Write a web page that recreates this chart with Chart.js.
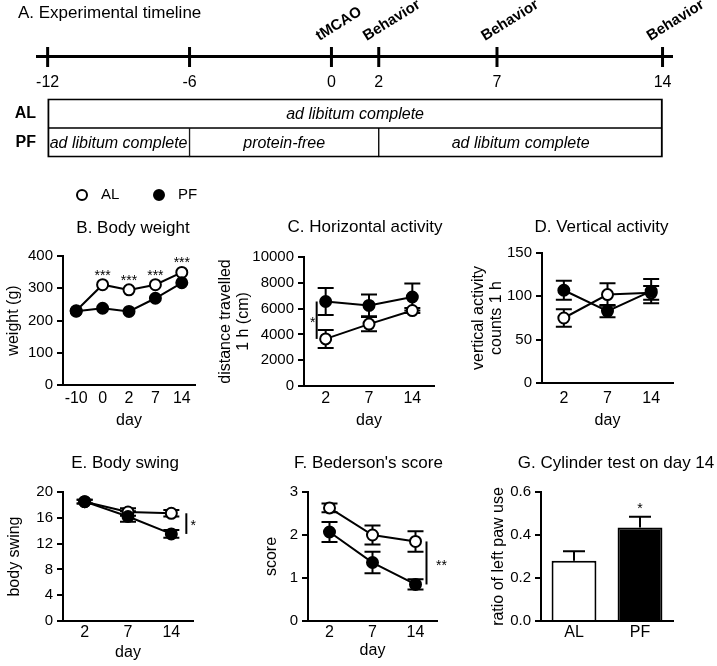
<!DOCTYPE html>
<html>
<head>
<meta charset="utf-8">
<script src="https://cdn.jsdelivr.net/npm/chart.js@4.4.1/dist/chart.umd.min.js"></script>
<style>
  body { margin: 0; background: #fff; }
  #fig { position: relative; width: 717px; height: 666px; overflow: hidden; background: #fff; }
  #fig canvas { position: absolute; }
</style>
</head>
<body>
<div id="fig">
  <canvas id="timeline" width="717" height="100" style="left:0px;top:0px"></canvas>
  <canvas id="diet" width="717" height="80" style="left:0px;top:88px"></canvas>
  <canvas id="weight" width="232" height="255" style="left:0px;top:175px"></canvas>
  <canvas id="horiz" width="255" height="255" style="left:215px;top:175px"></canvas>
  <canvas id="vert" width="252" height="255" style="left:465px;top:175px"></canvas>
  <canvas id="swing" width="232" height="236" style="left:0px;top:430px"></canvas>
  <canvas id="bederson" width="255" height="236" style="left:215px;top:430px"></canvas>
  <canvas id="cylinder" width="252" height="236" style="left:465px;top:430px"></canvas>
</div>
<script>
// A. timeline
const timelineDays = [-12, -6, 0, 2, 7, 14];
const eventDays = [0, 2, 7, 14];
const eventLabels = ['tMCAO', 'Behavior', 'Behavior', 'Behavior'];
const dietGroups = ['AL', 'PF'];
const alDiet = [[-12, 14]];
const alDietText = ['ad libitum complete'];
const pfDiet = [[-12, -6], [-6, 2], [2, 14]];
const pfDietText = ['ad libitum complete', 'protein-free', 'ad libitum complete'];

// B. body weight
const weightDays = ['-10', '0', '2', '7', '14'];
const weightAL = [230, 311, 295, 311, 349];
const weightPF = [229, 238, 228, 269, 317];
const weightStars = [null, '***', '***', '***', '***'];

// C-F behaviour days
const behaviorDays = ['2', '7', '14'];
const horizAL = [3650, 4800, 5850];
const horizALErr = [700, 550, 200];
const horizPF = [6550, 6250, 6900];
const horizPFErr = [1050, 850, 1050];

const vertAL = [75, 102, 104];
const vertALErr = [10, 13, 8];
const vertPF = [107, 83, 106];
const vertPFErr = [11, 7, 14];

const swingAL = [18.5, 16.9, 16.7];
const swingALErr = [0.3, 0.6, 0.5];
const swingPF = [18.5, 16.2, 13.5];
const swingPFErr = [0.3, 0.8, 0.6];

const bedersonAL = [2.63, 2.0, 1.85];
const bedersonALErr = [0.1, 0.22, 0.24];
const bedersonPF = [2.07, 1.36, 0.85];
const bedersonPFErr = [0.23, 0.25, 0.12];

// G. cylinder test
const cylinderGroups = ['AL', 'PF'];
const cylinderRatio = [0.28, 0.435];
const cylinderErr = [0.045, 0.05];

const FONT = '"Liberation Sans", Arial, Helvetica, sans-serif';
Chart.defaults.font.family = FONT;
Chart.defaults.color = '#000';

const errorBars = {
    id: 'errorBars',
    beforeDatasetsDraw(chart) {
        const { ctx, scales: { y } } = chart;
        ctx.save();
        ctx.strokeStyle = '#000';
        ctx.lineWidth = 2;
        chart.data.datasets.forEach((ds, i) => {
            if (!ds.errors) return;
            const cap = ds.capWidth || 8;
            chart.getDatasetMeta(i).data.forEach((el, j) => {
                const v = ds.data[j], e = ds.errors[j];
                const top = y.getPixelForValue(v + e);
                const bottom = y.getPixelForValue(ds.upOnly ? v : v - e);
                ctx.beginPath();
                ctx.moveTo(el.x, top);
                ctx.lineTo(el.x, bottom);
                ctx.moveTo(el.x - cap, top);
                ctx.lineTo(el.x + cap, top);
                if (!ds.upOnly) {
                    ctx.moveTo(el.x - cap, bottom);
                    ctx.lineTo(el.x + cap, bottom);
                }
                ctx.stroke();
            });
        });
        ctx.restore();
    }
};

const sigMarks = {
    id: 'sigMarks',
    afterDatasetsDraw(chart, args, opts) {
        const { ctx, scales: { y } } = chart;
        ctx.save();
        ctx.fillStyle = '#000';
        ctx.strokeStyle = '#000';
        ctx.lineWidth = 2;
        ctx.font = '14px ' + FONT;
        ctx.textAlign = 'center';
        ctx.textBaseline = 'middle';
        if (opts.stars) {
            const s = opts.stars;
            const ds = chart.data.datasets[s.dataset];
            const meta = chart.getDatasetMeta(s.dataset);
            s.text.forEach((t, j) => {
                if (!t) return;
                const top = ds.data[j] + (ds.errors ? ds.errors[j] : 0);
                ctx.fillText(t, meta.data[j].x, y.getPixelForValue(top) - s.gap);
            });
        }
        if (opts.bracket) {
            const b = opts.bracket;
            const a = chart.getDatasetMeta(0).data[b.index];
            const c = chart.getDatasetMeta(1).data[b.index];
            const x = a.x + b.dx;
            ctx.beginPath();
            ctx.moveTo(x, a.y);
            ctx.lineTo(x, c.y);
            ctx.stroke();
            ctx.fillText(b.text, x + b.textDx, (a.y + c.y) / 2 + 3);
        }
        ctx.restore();
    }
};

const panelTitle = {
    id: 'panelTitle',
    afterDraw(chart, args, opts) {
        const { ctx, chartArea } = chart;
        ctx.save();
        ctx.font = '17px ' + FONT;
        ctx.fillStyle = '#000';
        ctx.textAlign = 'center';
        ctx.textBaseline = 'middle';
        ctx.fillText(opts.text, (chartArea.left + chartArea.right) / 2 + opts.dx, chartArea.top - opts.dy);
        ctx.restore();
    }
};

const groupLegend = {
    id: 'groupLegend',
    afterDraw(chart, args, opts) {
        const ctx = chart.ctx;
        ctx.save();
        ctx.font = '15px ' + FONT;
        ctx.textAlign = 'left';
        ctx.textBaseline = 'middle';
        chart.data.datasets.forEach((ds, i) => {
            const x = opts.x + i * opts.step;
            ctx.beginPath();
            ctx.arc(x, opts.y, 5, 0, Math.PI * 2);
            ctx.fillStyle = ds.pointBackgroundColor;
            ctx.fill();
            ctx.lineWidth = 2;
            ctx.strokeStyle = '#000';
            ctx.stroke();
            ctx.fillStyle = '#000';
            ctx.fillText(ds.label, x + 19, opts.y);
        });
        ctx.restore();
    }
};

const eventText = {
    id: 'eventText',
    afterDraw(chart) {
        const { ctx, chartArea, scales: { x } } = chart;
        eventDays.forEach((d, i) => {
            ctx.save();
            ctx.translate(x.getPixelForValue(d) - 12, chartArea.bottom - 16);
            ctx.rotate(-32 * Math.PI / 180);
            ctx.font = 'bold 15px ' + FONT;
            ctx.fillStyle = '#000';
            ctx.textAlign = 'left';
            ctx.textBaseline = 'alphabetic';
            ctx.fillText(eventLabels[i], 0, 0);
            ctx.restore();
        });
    }
};

const barText = {
    id: 'barText',
    afterDatasetsDraw(chart) {
        const ctx = chart.ctx;
        ctx.save();
        ctx.font = 'italic 16px ' + FONT;
        ctx.fillStyle = '#000';
        ctx.textAlign = 'center';
        ctx.textBaseline = 'middle';
        chart.data.datasets.forEach((ds, i) => {
            chart.getDatasetMeta(i).data.forEach((el, j) => {
                const t = ds.texts[j];
                if (!t || ds.data[j] == null) return;
                ctx.fillText(t, (el.x + el.base) / 2, el.y + 1);
            });
        });
        ctx.restore();
    }
};

function yAxis(min, max, step, title, titlePad, width, fmt) {
    return {
        min: min,
        max: max,
        ticks: { stepSize: step, color: '#000', font: { size: 15 }, padding: 4, callback: fmt || (v => String(v)) },
        grid: { display: true, drawOnChartArea: false, drawTicks: true, tickLength: 6, color: '#000', lineWidth: 2 },
        border: { color: '#000', width: 2 },
        title: { display: true, text: title, color: '#000', font: { size: 16, lineHeight: 1.1 }, padding: { top: titlePad, bottom: 0 } },
        afterFit: s => { s.width = width; }
    };
}

function xAxis(tickPad, height, title, titlePad) {
    return {
        type: 'category',
        offset: true,
        ticks: { color: '#000', font: { size: 16 }, padding: tickPad, maxRotation: 0 },
        grid: { display: false, drawTicks: false },
        border: { color: '#000', width: 2 },
        title: { display: !!title, text: title || '', color: '#000', font: { size: 16, lineHeight: 1.1 }, padding: { top: 0, bottom: titlePad } },
        afterFit: s => { s.height = height; }
    };
}

function lineChart(id, p) {
    const point = {
        borderColor: '#000', borderWidth: 2, tension: 0, fill: false,
        pointRadius: 5.5, pointBorderWidth: 2, pointBorderColor: '#000'
    };
    const plugins = [errorBars, sigMarks, panelTitle];
    if (p.legend) plugins.push(groupLegend);
    return new Chart(document.getElementById(id), {
        type: 'line',
        data: {
            labels: p.labels,
            datasets: [
                Object.assign({ label: 'AL', data: p.al, errors: p.alErr, order: 1, pointBackgroundColor: '#fff' }, point),
                Object.assign({ label: 'PF', data: p.pf, errors: p.pfErr, order: 0, pointBackgroundColor: '#000' }, point)
            ]
        },
        options: {
            responsive: false,
            animation: false,
            events: [],
            layout: { padding: { left: 0, right: p.padR, top: p.padT, bottom: 0 } },
            plugins: {
                legend: { display: false },
                tooltip: { enabled: false },
                panelTitle: p.title,
                sigMarks: p.marks || {},
                groupLegend: p.legend || {}
            },
            scales: { x: p.x, y: p.y }
        },
        plugins: plugins
    });
}

// A. Experimental timeline
new Chart(document.getElementById('timeline'), {
    type: 'scatter',
    data: {
        datasets: [{
            data: timelineDays.map(d => ({ x: d, y: 0 })),
            pointStyle: 'line', pointRotation: 90, pointRadius: 10,
            pointBorderWidth: 3, pointBorderColor: '#000', borderColor: '#000',
            clip: false
        }]
    },
    options: {
        responsive: false,
        animation: false,
        events: [],
        layout: { padding: { left: 18, right: 45, top: 0, bottom: 0 } },
        plugins: {
            legend: { display: false },
            tooltip: { enabled: false },
            title: {
                display: true, text: 'A. Experimental timeline', align: 'start', color: '#000',
                font: { size: 17, weight: 'normal' }, padding: { top: 3, bottom: 10 }
            }
        },
        scales: {
            x: {
                type: 'linear', min: -12.45, max: 14.4,
                border: { color: '#000', width: 3 },
                grid: { display: false, drawTicks: false },
                ticks: { color: '#000', font: { size: 16 }, padding: 16, autoSkip: false, maxRotation: 0, callback: v => String(v) },
                afterBuildTicks: s => { s.ticks = timelineDays.map(v => ({ value: v })); },
                afterFit: s => { s.height = 43; }
            },
            y: {
                min: 0, max: 1,
                ticks: { display: false },
                grid: { display: false },
                border: { display: false },
                afterFit: s => { s.width = 19; }
            }
        }
    },
    plugins: [eventText]
});

// diet rows
new Chart(document.getElementById('diet'), {
    type: 'bar',
    data: {
        labels: dietGroups,
        datasets: pfDiet.map((seg, i) => ({
            data: [alDiet[i] || null, seg],
            texts: [alDietText[i], pfDietText[i]],
            grouped: false,
            barPercentage: 1,
            categoryPercentage: 1,
            backgroundColor: '#fff',
            borderColor: '#000',
            borderSkipped: false,
            borderWidth: ctx => {
                const r = ctx.raw;
                if (!r) return 1.5;
                return {
                    top: ctx.dataIndex === 0 ? 2 : 1,
                    bottom: ctx.dataIndex === 0 ? 1 : 2,
                    left: r[0] === timelineDays[0] ? 2 : 1,
                    right: r[1] === timelineDays[timelineDays.length - 1] ? 2 : 1
                };
            }
        }))
    },
    options: {
        indexAxis: 'y',
        responsive: false,
        animation: false,
        events: [],
        layout: { padding: { left: 0, right: 45, top: 6, bottom: 9 } },
        plugins: { legend: { display: false }, tooltip: { enabled: false } },
        scales: {
            x: { type: 'linear', min: -12.45, max: 14.4, display: false },
            y: {
                ticks: { color: '#000', font: { size: 16, weight: 'bold' }, padding: 1 },
                grid: { display: false, drawTicks: false },
                border: { display: false },
                afterFit: s => { s.width = 37; }
            }
        }
    },
    plugins: [barText]
});

// B. Body weight
lineChart('weight', {
    labels: weightDays, al: weightAL, pf: weightPF,
    padR: 37, padT: 81,
    title: { text: 'B. Body weight', dx: 4, dy: 28 },
    legend: { x: 82, y: 20, step: 77 },
    marks: { stars: { dataset: 0, text: weightStars, gap: 9 } },
    x: xAxis(4, 45, 'day', 1),
    y: yAxis(0, 400, 100, 'weight (g)', 5, 63)
});

// C. Horizontal activity
lineChart('horiz', {
    labels: behaviorDays, al: horizAL, alErr: horizALErr, pf: horizPF, pfErr: horizPFErr,
    padR: 36, padT: 82,
    title: { text: 'C. Horizontal activity', dx: -4, dy: 30 },
    marks: { bracket: { index: 0, dx: -9, text: '*', textDx: -4 } },
    x: xAxis(3, 44, 'day', 1),
    y: yAxis(0, 10000, 2000, ['distance travelled', '1 h (cm)'], 2, 89)
});

// D. Vertical activity
lineChart('vert', {
    labels: behaviorDays, al: vertAL, alErr: vertALErr, pf: vertPF, pfErr: vertPFErr,
    padR: 44, padT: 78,
    title: { text: 'D. Vertical activity', dx: -6, dy: 26 },
    x: xAxis(6, 47, 'day', 1),
    y: yAxis(0, 150, 50, ['vertical activity', 'counts 1 h'], 5, 77)
});

// E. Body swing
lineChart('swing', {
    labels: behaviorDays, al: swingAL, alErr: swingALErr, pf: swingPF, pfErr: swingPFErr,
    padR: 39, padT: 62,
    title: { text: 'E. Body swing', dx: -3, dy: 29 },
    marks: { bracket: { index: 2, dx: 15, text: '*', textDx: 7 } },
    x: xAxis(2, 45, 'day', 5),
    y: yAxis(0, 20, 4, 'body swing', 6, 63)
});

// F. Bederson's score
lineChart('bederson', {
    labels: behaviorDays, al: bedersonAL, alErr: bedersonALErr, pf: bedersonPF, pfErr: bedersonPFErr,
    padR: 33, padT: 62,
    title: { text: "F. Bederson's score", dx: -4, dy: 29 },
    marks: { bracket: { index: 2, dx: 11, text: '**', textDx: 15 } },
    x: xAxis(2, 45, 'day', 7),
    y: yAxis(0, 3, 1, 'score', 48, 93)
});

// G. Cylinder test on day 14
new Chart(document.getElementById('cylinder'), {
    type: 'bar',
    data: {
        labels: cylinderGroups,
        datasets: [{
            data: cylinderRatio,
            errors: cylinderErr,
            upOnly: true,
            capWidth: 11,
            backgroundColor: ['#fff', '#000'],
            borderColor: '#000',
            borderWidth: 2,
            barPercentage: 0.68,
            categoryPercentage: 1
        }]
    },
    options: {
        responsive: false,
        animation: false,
        events: [],
        layout: { padding: { left: 0, right: 44, top: 62, bottom: 0 } },
        plugins: {
            legend: { display: false },
            tooltip: { enabled: false },
            panelTitle: { text: 'G. Cylinder test on day 14', dx: 9, dy: 29 },
            sigMarks: { stars: { dataset: 0, text: [null, '*'], gap: 8 } }
        },
        scales: {
            x: xAxis(2, 45, '', 0),
            y: yAxis(0, 0.6, 0.2, 'ratio of left paw use', 25, 76, v => v.toFixed(1))
        }
    },
    plugins: [errorBars, sigMarks, panelTitle]
});
</script>
</body>
</html>
